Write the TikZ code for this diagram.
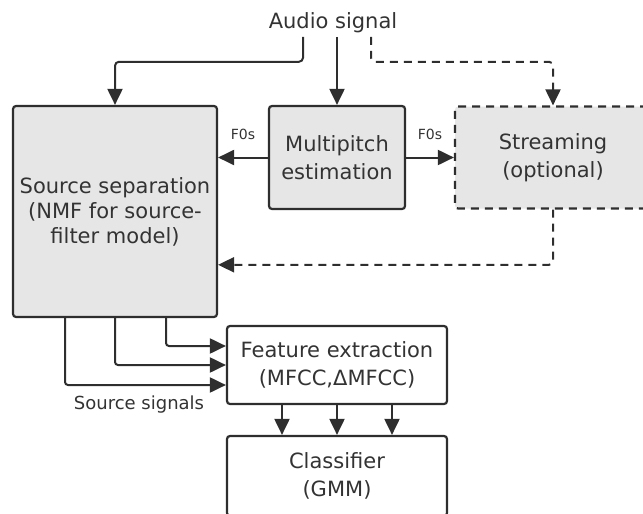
\documentclass[tikz,border=0pt]{standalone}
\usepackage{fontspec}
\setmainfont{DejaVu Sans}
\usetikzlibrary{arrows.meta,calc,positioning}
\definecolor{boxgray}{HTML}{E6E6E6}
\definecolor{linegray}{HTML}{2E2E2E}
\definecolor{textgray}{HTML}{333333}

\begin{document}
\begin{tikzpicture}[x=0.5pt,y=-0.5pt,
        flow/.style={draw=linegray,line width=1pt,-{Triangle[width=7.5pt,length=8pt]}},
        opt/.style={dash pattern=on 4pt off 3pt},
        block/.style={rectangle,rounded corners=1.5pt,draw=linegray,line width=1.1pt,align=center,
          text=textgray,font=\fontsize{10.5}{14}\selectfont},
        grayblock/.style={block,fill=boxgray},
        small/.style={font=\fontsize{7}{8}\selectfont,text=textgray}]
        \useasboundingbox (0,0) rectangle (643,514);
        \clip (0,0) rectangle (643,514);
        \node[anchor=base,inner sep=2pt,text=textgray,font=\fontsize{10.5}{12}\selectfont] (audio) at (333,28) {Audio signal};
        \node[grayblock,minimum width=101pt,minimum height=105.5pt,font=\fontsize{10.5}{12.5}\selectfont] (ss) at (115,211.5)
          {Source separation\\(NMF for source-\\filter model)};
        \node[grayblock,minimum width=68pt,minimum height=51.5pt] (mp) at (337,157.5) {Multipitch\\estimation};
        \node[grayblock,opt,minimum width=98pt,minimum height=51pt] (st) at (553,157.5) {Streaming\\(optional)};
        \node[block,minimum width=110pt,minimum height=39pt] (fe) at (337,365) {Feature extraction\\(MFCC,ΔMFCC)};
        \node[block,minimum width=110pt,minimum height=40pt] (cl) at (337,476) {Classifier\\(GMM)};
        \node[inner sep=1pt,text=textgray,font=\fontsize{9}{10}\selectfont] (sig) at (139,405) {Source signals};
        \draw[flow,rounded corners=2pt] (audio.south -| 303,0) -- ++(0,25) -| (ss.north);
        \draw[flow] (audio.south -| mp.north) -- (mp.north);
        \draw[flow,opt,rounded corners=2pt] (audio.south -| 371,0) -- ++(0,25) -| (st.north);
        \draw[flow] (mp.west) -- node[small,above=5pt] (f0l) {F0s} (mp.west -| ss.east);
        \draw[flow] (mp.east) -- node[small,above=5pt] (f0r) {F0s} (st.west);
        \draw[flow,opt,rounded corners=2pt] (st.south) |- ($(ss.north east)!0.75!(ss.south east)$);
        \foreach \dx/\dy in {-50/20,0/0,51/-19}
          \draw[flow,rounded corners=1.5pt] ($(ss.south)+(\dx,0)$) |- ($(fe.west)+(0,\dy)$);
        \foreach \dx in {-55,0,55}
          \draw[flow] ($(fe.south)+(\dx,0)$) -- ($(cl.north)+(\dx,0)$);
      \end{tikzpicture}
\end{document}
